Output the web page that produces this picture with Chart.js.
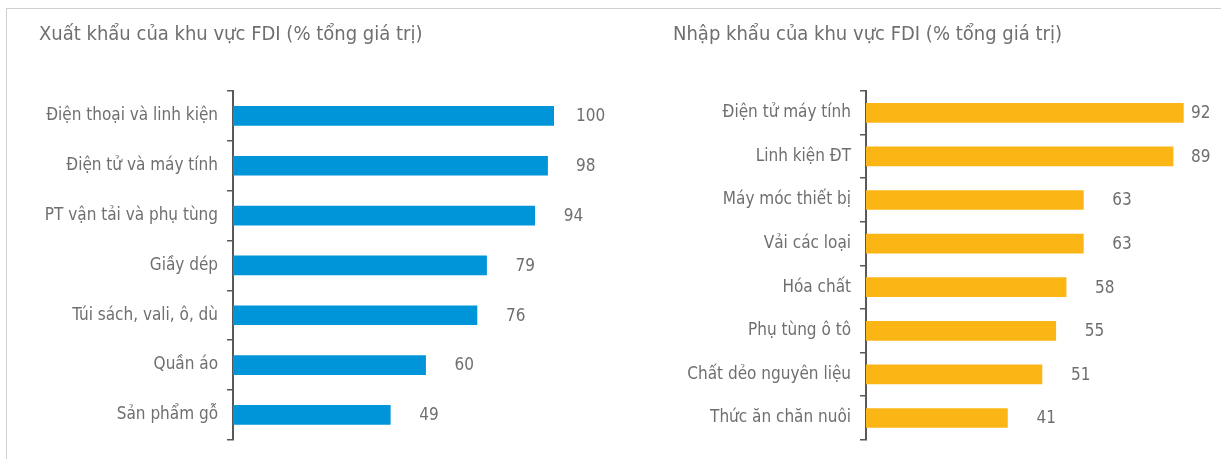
<!DOCTYPE html>
<html>
<head>
<meta charset="utf-8">
<script src="https://cdn.jsdelivr.net/npm/chart.js@4"></script>
<style>
  body { margin: 0; background: #fff; }
  #wrap { position: relative; width: 1221px; height: 459px; overflow: hidden; }
  #frame { position: absolute; left: 6px; top: 8px; right: 0; bottom: 0;
           border-top: 1px solid #cfcfcf; border-left: 1px solid #cfcfcf; }
  .box { position: absolute; top: 0; height: 459px; }
</style>
</head>
<body>
<div id="wrap">
  <div id="frame"></div>
  <div class="box" style="left:0;width:610px"><canvas id="exportChart"></canvas></div>
  <div class="box" style="left:610px;width:611px"><canvas id="importChart"></canvas></div>
</div>
<script>
// data
const exportTitle = 'Xuất khẩu của khu vực FDI (% tổng giá trị)';
const exportLabels = ['Điện thoại và linh kiện', 'Điện tử và máy tính', 'PT vận tải và phụ tùng', 'Giầy dép', 'Túi sách, vali, ô, dù', 'Quần áo', 'Sản phẩm gỗ'];
const exportValues = [100, 98, 94, 79, 76, 60, 49];

const importTitle = 'Nhập khẩu của khu vực FDI (% tổng giá trị)';
const importLabels = ['Điện tử máy tính', 'Linh kiện ĐT', 'Máy móc thiết bị', 'Vải các loại', 'Hóa chất', 'Phụ tùng ô tô', 'Chất dẻo nguyên liệu', 'Thức ăn chăn nuôi'];
const importValues = [92, 89, 63, 63, 58, 55, 51, 41];

const FONT = "'Liberation Sans Narrow', 'Arial Narrow', 'DejaVu Sans Condensed', sans-serif";
const TEXT = '#6f6f6f';
const AXIS = '#595959';

// value labels to the right of each bar
const valueLabels = {
  id: 'valueLabels',
  afterDatasetsDraw(chart, args, opts) {
    const ctx = chart.ctx;
    const meta = chart.getDatasetMeta(0);
    ctx.save();
    ctx.font = '17px ' + FONT;
    ctx.fillStyle = TEXT;
    ctx.textAlign = 'left';
    ctx.textBaseline = 'middle';
    meta.data.forEach((bar, i) => {
      const x = Math.min(bar.x + 29, opts.maxX);
      ctx.fillText(String(chart.data.datasets[0].data[i]), x, bar.y + 1);
    });
    ctx.restore();
  }
};

function makeChart(id, title, labels, values, color, padLeft, axisWidth, padRight, xMax, labelMax) {
  return new Chart(document.getElementById(id), {
    type: 'bar',
    data: {
      labels: labels,
      datasets: [{
        data: values,
        backgroundColor: color,
        barThickness: 19
      }]
    },
    options: {
      indexAxis: 'y',
      responsive: true,
      maintainAspectRatio: false,
      animation: false,
      layout: { padding: { left: padLeft, right: padRight, bottom: 6, top: 0 } },
      plugins: {
        legend: { display: false },
        tooltip: { enabled: false },
        title: {
          display: true,
          text: title,
          align: 'start',
          color: TEXT,
          font: { family: FONT, size: 20, weight: 'normal' },
          padding: { top: 23, bottom: 44 }
        },
        valueLabels: { maxX: labelMax }
      },
      scales: {
        x: { display: false, min: 0, max: xMax },
        y: {
          afterFit(scale) { scale.width = axisWidth; },
          border: { display: true, color: AXIS, width: 2 },
          grid: { drawOnChartArea: false, color: AXIS, lineWidth: 1.5, tickLength: 6, offset: true },
          ticks: { color: TEXT, padding: 9, font: { family: FONT, size: 17 } }
        }
      }
    },
    plugins: [valueLabels]
  });
}

makeChart('exportChart', exportTitle, exportLabels, exportValues, '#0095d9', 39, 194, 56, 100, 576);
makeChart('importChart', importTitle, importLabels, importValues, '#fbb616', 63, 193, 10, 100, 581);
</script>
</body>
</html>
